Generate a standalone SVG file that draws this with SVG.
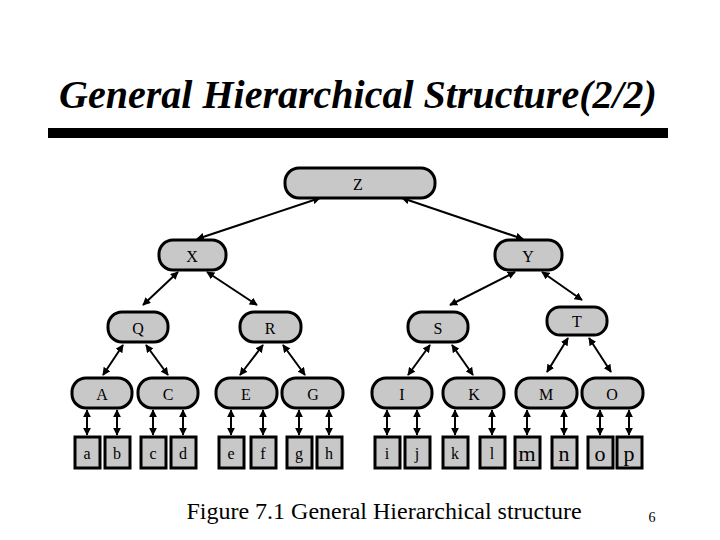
<svg xmlns="http://www.w3.org/2000/svg" width="720" height="540" viewBox="0 0 720 540">
<defs>
<marker id="ah" viewBox="0 0 10 10" refX="9" refY="5" markerWidth="4" markerHeight="4" orient="auto-start-reverse"><path d="M0,0L10,5L0,10z" fill="#000"/></marker>
<style>
.n rect{fill:#c8c8c8;stroke:#000;stroke-width:3}
.n text{font-family:"Liberation Serif",serif;font-size:16px;text-anchor:middle;fill:#000}
.n text.big{font-size:22px}
#edges line{stroke:#000;stroke-width:2;marker-start:url(#ah);marker-end:url(#ah)}
</style>
</defs>
<rect width="720" height="540" fill="#fff"/>
<text x="358" y="108" font-family="'Liberation Serif',serif" font-size="40" font-weight="bold" font-style="italic" text-anchor="middle">General Hierarchical Structure(2/2)</text>
<rect x="48" y="128" width="620" height="10" fill="#000"/>
<g id="edges">
<line x1="320" y1="198" x2="197" y2="239"/>
<line x1="402" y1="198" x2="523" y2="239"/>
<line x1="178" y1="272" x2="143" y2="305"/>
<line x1="207" y1="272" x2="257" y2="305"/>
<line x1="515" y1="272" x2="450" y2="305"/>
<line x1="542" y1="272" x2="582" y2="300"/>
<line x1="123" y1="345" x2="103" y2="375"/>
<line x1="146" y1="345" x2="168" y2="375"/>
<line x1="263" y1="345" x2="240" y2="375"/>
<line x1="283" y1="345" x2="305" y2="375"/>
<line x1="430" y1="345" x2="408" y2="375"/>
<line x1="452" y1="345" x2="473" y2="375"/>
<line x1="568" y1="338" x2="547" y2="372"/>
<line x1="589" y1="338" x2="611" y2="372"/>
<line x1="87" y1="410" x2="87" y2="435"/>
<line x1="117" y1="410" x2="117" y2="435"/>
<line x1="153" y1="410" x2="153" y2="435"/>
<line x1="183" y1="410" x2="183" y2="435"/>
<line x1="231" y1="410" x2="231" y2="435"/>
<line x1="263" y1="410" x2="263" y2="435"/>
<line x1="299" y1="410" x2="299" y2="435"/>
<line x1="329" y1="410" x2="329" y2="435"/>
<line x1="387" y1="410" x2="387" y2="435"/>
<line x1="417" y1="410" x2="417" y2="435"/>
<line x1="455" y1="410" x2="455" y2="435"/>
<line x1="492" y1="410" x2="492" y2="435"/>
<line x1="527" y1="410" x2="527" y2="435"/>
<line x1="564" y1="410" x2="564" y2="435"/>
<line x1="600" y1="410" x2="600" y2="435"/>
<line x1="629" y1="410" x2="629" y2="435"/>
</g>
<g id="Z" class="n"><rect x="285" y="168" width="150" height="30" rx="14"/><text x="358" y="190">Z</text></g>
<g id="X" class="n"><rect x="159" y="240" width="67" height="30" rx="14"/><text x="192" y="262">X</text></g>
<g id="Y" class="n"><rect x="495" y="240" width="67" height="30" rx="14"/><text x="528" y="262">Y</text></g>
<g id="Q" class="n"><rect x="108" y="312" width="60" height="30" rx="14"/><text x="138" y="334">Q</text></g>
<g id="R" class="n"><rect x="240" y="312" width="61" height="30" rx="14"/><text x="270" y="334">R</text></g>
<g id="S" class="n"><rect x="408" y="312" width="60" height="30" rx="14"/><text x="438" y="334">S</text></g>
<g id="T" class="n"><rect x="547" y="307" width="60" height="28" rx="13"/><text x="577" y="327">T</text></g>
<g id="A" class="n"><rect x="72" y="378" width="60" height="30" rx="14"/><text x="102" y="400">A</text></g>
<g id="C" class="n"><rect x="138" y="378" width="60" height="30" rx="14"/><text x="168" y="400">C</text></g>
<g id="E" class="n"><rect x="216" y="378" width="61" height="30" rx="14"/><text x="246" y="400">E</text></g>
<g id="G" class="n"><rect x="282" y="378" width="61" height="30" rx="14"/><text x="313" y="400">G</text></g>
<g id="I" class="n"><rect x="372" y="378" width="60" height="30" rx="14"/><text x="402" y="400">I</text></g>
<g id="K" class="n"><rect x="443" y="378" width="61" height="30" rx="14"/><text x="474" y="400">K</text></g>
<g id="M" class="n"><rect x="516" y="378" width="61" height="30" rx="14"/><text x="546" y="400">M</text></g>
<g id="O" class="n"><rect x="582" y="378" width="61" height="30" rx="14"/><text x="612" y="400">O</text></g>
<g id="a" class="n"><rect x="75" y="437" width="25" height="31"/><text x="87" y="459">a</text></g>
<g id="b" class="n"><rect x="105" y="437" width="25" height="31"/><text x="117" y="459">b</text></g>
<g id="c" class="n"><rect x="141" y="437" width="25" height="31"/><text x="153" y="459">c</text></g>
<g id="d" class="n"><rect x="171" y="437" width="25" height="31"/><text x="183" y="459">d</text></g>
<g id="e" class="n"><rect x="219" y="437" width="25" height="31"/><text x="231" y="459">e</text></g>
<g id="f" class="n"><rect x="251" y="437" width="25" height="31"/><text x="263" y="459">f</text></g>
<g id="g" class="n"><rect x="287" y="437" width="25" height="31"/><text x="299" y="459">g</text></g>
<g id="h" class="n"><rect x="317" y="437" width="25" height="31"/><text x="329" y="459">h</text></g>
<g id="i" class="n"><rect x="375" y="437" width="25" height="31"/><text x="387" y="459">i</text></g>
<g id="j" class="n"><rect x="405" y="437" width="25" height="31"/><text x="417" y="459">j</text></g>
<g id="k" class="n"><rect x="443" y="437" width="25" height="31"/><text x="455" y="459">k</text></g>
<g id="l" class="n"><rect x="480" y="437" width="25" height="31"/><text x="492" y="459">l</text></g>
<g id="m" class="n"><rect x="515" y="437" width="25" height="31"/><text class="big" x="527" y="461">m</text></g>
<g id="n" class="n"><rect x="552" y="437" width="25" height="31"/><text class="big" x="564" y="461">n</text></g>
<g id="o" class="n"><rect x="588" y="437" width="25" height="31"/><text class="big" x="600" y="461">o</text></g>
<g id="p" class="n"><rect x="617" y="437" width="25" height="31"/><text class="big" x="629" y="461">p</text></g>
<text x="384" y="519" font-family="'Liberation Serif',serif" font-size="24" text-anchor="middle">Figure 7.1 General Hierarchical structure</text>
<text x="652" y="522" font-family="'Liberation Serif',serif" font-size="14" text-anchor="middle">6</text>
</svg>
